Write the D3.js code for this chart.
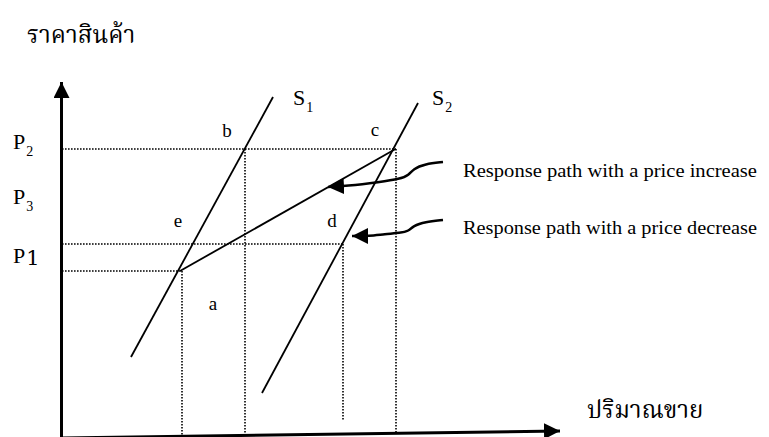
<!DOCTYPE html>
<html>
<head>
<meta charset="utf-8">
<script src="https://cdn.jsdelivr.net/npm/d3@7"></script>
<style>
  body { margin: 0; background: #fff; }
  text { font-family: "Liberation Serif", "Times New Roman", serif; fill: #000; }
  .thai { font-family: "Noto Serif Thai", "Norasi", "Kinnari", "Noto Sans Thai Looped", "Noto Sans Thai", "Loma", serif; }
</style>
</head>
<body>
<div id="chart-area"></div>
<script>

// price levels and quantities (chart units)
var priceLevels = [28.8, 19.3, 16.6];          // P2, middle, P1
var quantities = [12.0, 18.3, 28.1, 33.4];      // a, b, d, c

// supply curves
var supply1 = [[6.9, 8.0], [21.1, 34.0]];
var supply2 = [[20.0, 4.4], [35.6, 33.4]];

// response path e -> c
var responsePath = [[11.8, 16.6], [33.35, 28.8]];

// dotted guide lines
var guidesH = [
  {y: 28.8, x0: 0, x1: 33.4},
  {y: 19.3, x0: 0, x1: 28.1},
  {y: 16.6, x0: 0, x1: 12.0}
];
var guidesV = [
  {x: 12.0, y0: 16.6, y1: 0},
  {x: 18.3, y0: 28.8, y1: 0},
  {x: 28.1, y0: 19.3, y1: 1.7},
  {x: 33.4, y0: 28.8, y1: 0.5}
];

// curved pointer arrows (last point = arrow tip)
var pointerIncrease = [[38.1, 27.5], [36.3, 27.3], [35.1, 26.8], [34.7, 26.2], [33.8, 25.8], [31.8, 25.5], [28.4, 25.1], [26.6, 25.0]];
var pointerDecrease = [[38.1, 21.7], [36.3, 21.5], [35.1, 21.1], [34.7, 20.6], [33.8, 20.4], [32.3, 20.3], [30.7, 20.1], [29.0, 20.1]];

// labels
var pointLabels = [
  {t: "b", x: 16.5, y: 30.0},
  {t: "c", x: 31.3, y: 30.1},
  {t: "e", x: 11.6, y: 21.0},
  {t: "d", x: 27.0, y: 21.0},
  {t: "a", x: 15.1, y: 12.7}
];
var priceLabels = [
  {t: "P", sub: "2", y: 28.8},
  {t: "P", sub: "3", y: 23.3},
  {t: "P", sub: "1", y: 17.4}
];
var supplyLabels = [
  {t: "S", sub: "1", x: 23.1, y: 33.2},
  {t: "S", sub: "2", x: 37.0, y: 33.2}
];
var pathLabels = [
  {t: "Response path with a price increase", y: 26.0},
  {t: "Response path with a price decrease", y: 20.3}
];
var yTitle = "ราคาสินค้า";
var xTitle = "ปริมาณขาย";

var width = 769, height = 437;

var svg = d3.select("#chart-area").append("svg")
    .attr("width", width)
    .attr("height", height);

// 10 px per unit, origin at (62, 437)
var x = d3.scaleLinear().domain([0, 50]).range([62, 562]);
var y = d3.scaleLinear().domain([0, 35.5]).range([437, 82]);

var defs = svg.append("defs");
function addHead(id, len, half) {
  defs.append("marker")
      .attr("id", id)
      .attr("markerUnits", "userSpaceOnUse")
      .attr("viewBox", `0 ${-half} ${len} ${half * 2}`)
      .attr("refX", len)
      .attr("refY", 0)
      .attr("markerWidth", len)
      .attr("markerHeight", half * 2)
      .attr("orient", "auto")
      .append("path")
      .attr("d", `M0,${-half}L${len},0L0,${half}Z`)
      .attr("fill", "#000");
}
addHead("axis-head", 16, 8);
addHead("pointer-head", 16, 8);

var line = d3.line().x(d => x(d[0])).y(d => y(d[1]));

// dotted guides
svg.selectAll(".guide-h")
    .data(guidesH)
    .join("line")
    .attr("class", "guide-h")
    .attr("x1", d => x(d.x0)).attr("x2", d => x(d.x1))
    .attr("y1", d => y(d.y)).attr("y2", d => y(d.y))
    .attr("stroke", "#000")
    .attr("stroke-width", 1.6)
    .attr("stroke-dasharray", "1.6,1.4");

svg.selectAll(".guide-v")
    .data(guidesV)
    .join("line")
    .attr("class", "guide-v")
    .attr("x1", d => x(d.x)).attr("x2", d => x(d.x))
    .attr("y1", d => y(d.y0)).attr("y2", d => y(d.y1))
    .attr("stroke", "#000")
    .attr("stroke-width", 1.6)
    .attr("stroke-dasharray", "1.6,1.4");

// supply curves and response path
svg.selectAll(".supply")
    .data([supply1, supply2, responsePath])
    .join("path")
    .attr("class", "supply")
    .attr("d", line)
    .attr("fill", "none")
    .attr("stroke", "#000")
    .attr("stroke-width", 1.8);

// axes
svg.append("line")
    .attr("x1", x(-0.05)).attr("y1", y(0))
    .attr("x2", x(-0.05)).attr("y2", y(35.5))
    .attr("stroke", "#000")
    .attr("stroke-width", 3)
    .attr("marker-end", "url(#axis-head)");

svg.append("line")
    .attr("x1", x(0)).attr("y1", y(-0.1))
    .attr("x2", x(49.8)).attr("y2", y(0.6))
    .attr("stroke", "#000")
    .attr("stroke-width", 3)
    .attr("marker-end", "url(#axis-head)");

// curved pointers
var curve = d3.line().x(d => x(d[0])).y(d => y(d[1])).curve(d3.curveBasis);
svg.selectAll(".pointer")
    .data([pointerIncrease, pointerDecrease])
    .join("path")
    .attr("class", "pointer")
    .attr("d", curve)
    .attr("fill", "none")
    .attr("stroke", "#000")
    .attr("stroke-width", 2.5)
    .attr("marker-end", "url(#pointer-head)");

// point labels
svg.selectAll(".pt-label")
    .data(pointLabels)
    .join("text")
    .attr("class", "pt-label")
    .attr("x", d => x(d.x)).attr("y", d => y(d.y))
    .attr("text-anchor", "middle")
    .attr("font-size", 19)
    .text(d => d.t);

// price labels with subscripts
var pl = svg.selectAll(".p-label")
    .data(priceLabels)
    .join("text")
    .attr("class", "p-label")
    .attr("x", x(-4.9)).attr("y", d => y(d.y))
    .attr("font-size", 22);
pl.append("tspan").text(d => d.t);
pl.append("tspan")
    .attr("font-size", d => d.sub == "1" ? 21 : 14)
    .attr("font-family", d => d.sub == "1" ? "DejaVu Serif" : null)
    .attr("dx", 1)
    .attr("dy", d => d.sub == "1" ? 2 : 7)
    .text(d => d.sub);

var sl = svg.selectAll(".s-label")
    .data(supplyLabels)
    .join("text")
    .attr("class", "s-label")
    .attr("x", d => x(d.x)).attr("y", d => y(d.y))
    .attr("font-size", 22);
sl.append("tspan").text(d => d.t);
sl.append("tspan")
    .attr("font-size", 14)
    .attr("dx", 1)
    .attr("dy", 7)
    .text(d => d.sub);

// pointer texts
svg.selectAll(".path-label")
    .data(pathLabels)
    .join("text")
    .attr("class", "path-label")
    .attr("x", x(40.1)).attr("y", d => y(d.y))
    .attr("font-size", 19)
    .attr("textLength", 294)
    .attr("lengthAdjust", "spacingAndGlyphs")
    .text(d => d.t);

// axis titles
svg.append("text")
    .attr("class", "thai")
    .attr("x", 27).attr("y", y(39.4))
    .attr("font-size", 24)
    .text(yTitle);

svg.append("text")
    .attr("class", "thai")
    .attr("x", x(52.5)).attr("y", y(1.9))
    .attr("font-size", 24)
    .text(xTitle);

</script>
</body>
</html>
